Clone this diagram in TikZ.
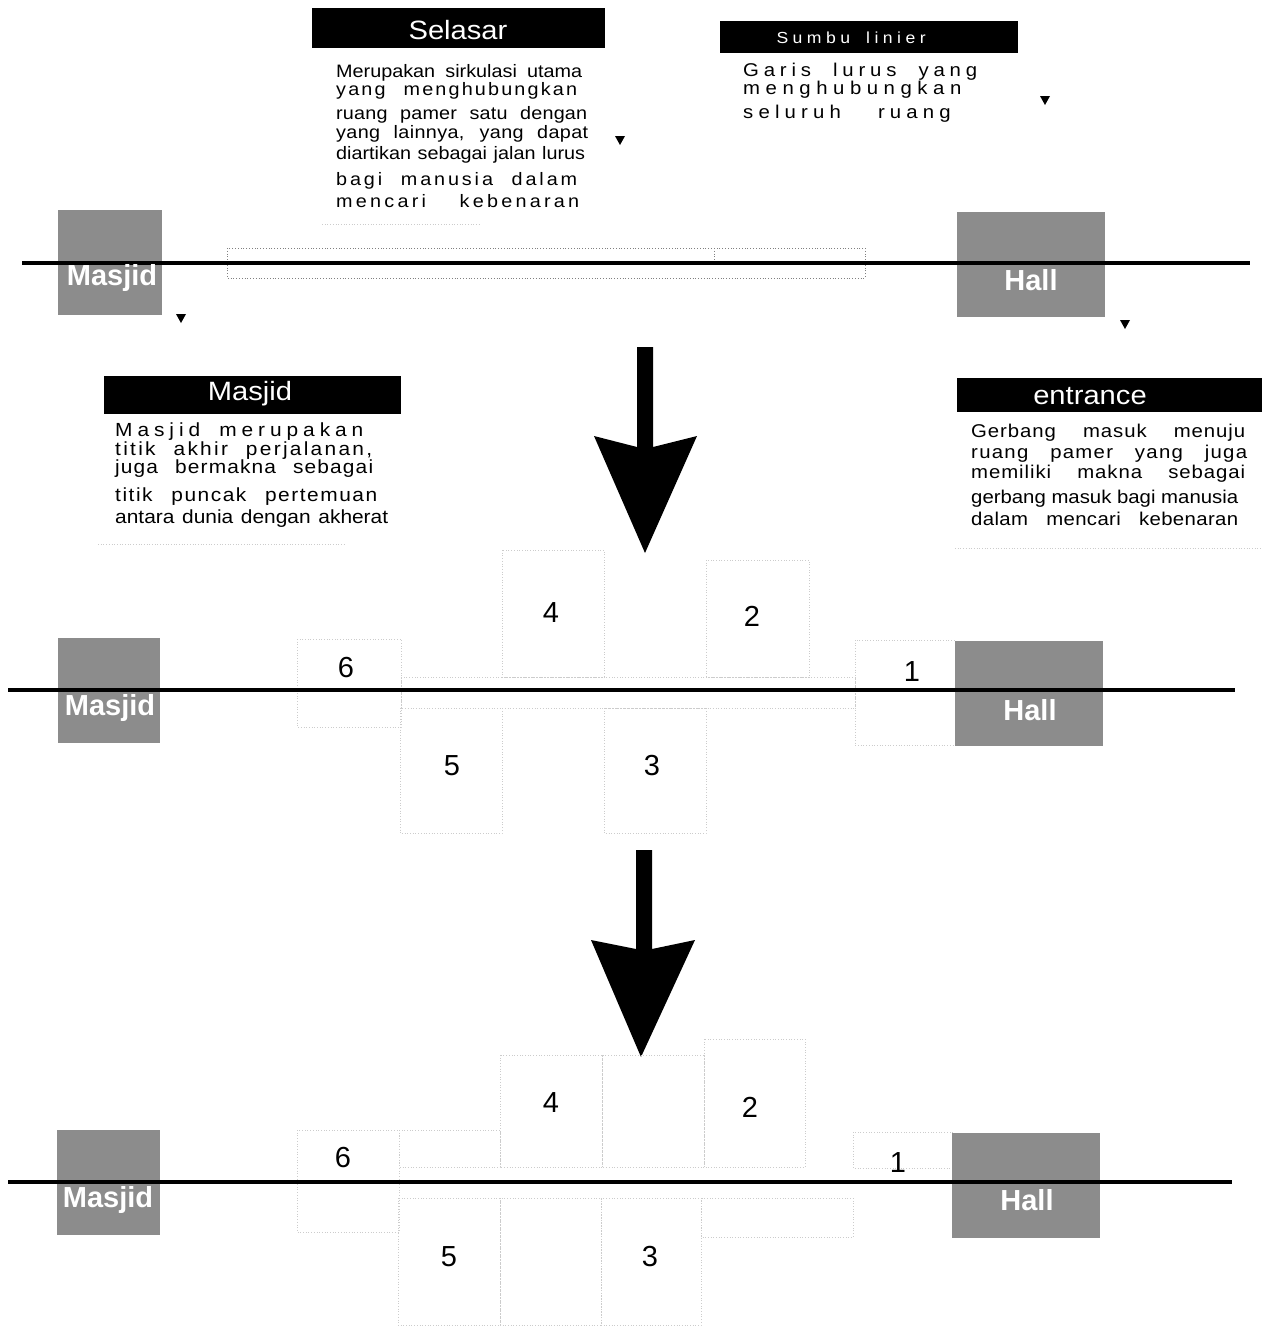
\documentclass[tikz,border=0pt]{standalone}
\usepackage{fontspec}
\setmainfont{Liberation Sans}
\newfontfamily\bodyfont[FakeStretch=1.1]{Liberation Sans}
\newcommand\jline[3]{\makebox[#1pt][s]{\addfontfeature{LetterSpace=#2}#3}}
\newcommand\fSel{\bodyfont\fontsize{18}{18}\selectfont}
\newcommand\fSum{\bodyfont\fontsize{18.5}{18}\selectfont}
\newcommand\fMas{\bodyfont\fontsize{19}{18}\selectfont}
\newcommand\fEnt{\bodyfont\fontsize{18.5}{18}\selectfont}
\newcommand\fHdr{\bodyfont\fontsize{26.5}{26}\selectfont}
\begin{document}
\begin{tikzpicture}[x=1pt,y=-1pt,
  txt/.style={anchor=base west,inner sep=0pt},
  hdr/.style={fill=black,draw=none,inner sep=0pt},
  hdrtext/.style={text=white,inner sep=0pt,font=\fHdr},
  graybox/.style={fill=black!45,draw=none,inner sep=0pt},
  graylabel/.style={text=white,font=\bfseries\fontsize{29}{29}\selectfont,inner sep=0pt},
  axisline/.style={line width=4.5pt},
  topdot/.style={draw=black!50,dotted,line width=0.8pt},
  faint/.style={draw=black!20,dotted,line width=0.7pt},
  num/.style={font=\fontsize{29}{29}\selectfont,inner sep=0pt},
  marker/.style={fill=black},
  bigarrow/.style={fill=black}]
\useasboundingbox (0,0) rectangle (1270,1326);

% ---------------- top section ----------------
% Selasar
\node[hdr,minimum width=293pt,minimum height=40pt] (hsel) at (458.5,28) {};
\node[hdrtext] (hselt) at (458,30) {Selasar};
\node[txt,font=\fSel] (sel1) at (336,77) {\jline{246}{0}{Merupakan sirkulasi utama}};
\node[txt,font=\fSel] (sel2) at (336,95) {\jline{250}{12}{yang\quad menghubungkan}};
\node[txt,font=\fSel] (sel3) at (336,119) {\jline{251}{1}{ruang pamer satu dengan}};
\node[txt,font=\fSel] (sel4) at (336,138) {\jline{252}{2}{yang lainnya, yang dapat}};
\node[txt,font=\fSel] (sel5) at (336,159) {\jline{249}{0}{diartikan sebagai jalan lurus}};
\node[txt,font=\fSel] (sel6) at (336,185) {\jline{241}{16}{bagi manusia dalam}};
\node[txt,font=\fSel] (sel7) at (336,207) {\jline{243}{18}{mencari kebenaran}};
\draw[faint] (322,224) -- (480,224);
\fill[marker] (615,136) -- (625,136) -- (620,145) -- cycle;

% Sumbu linier
\node[hdr,minimum width=298pt,minimum height=32pt] (hsum) at (869,37) {};
\node[text=white,inner sep=0pt,font=\bodyfont\fontsize{16}{16}\selectfont] (hsumt) at (863,38) {\jline{173}{28}{Sumbu\quad linier}};
\node[txt,font=\fSum] (sum1) at (743,76) {\jline{234}{26}{Garis lurus yang}};
\node[txt,font=\fSum] (sum2) at (743,94) {\jline{226}{30}{menghubungkan}};
\node[txt,font=\fSum] (sum3) at (743,118) {\jline{247}{28}{seluruh\qquad ruang}};
\fill[marker] (1040,96) -- (1050,96) -- (1045,105) -- cycle;

% axis 1
\node[graybox,minimum width=104pt,minimum height=105pt] (gm1) at (110,262.5) {};
\node[graybox,minimum width=148pt,minimum height=105pt] (gh1) at (1031,264.5) {};
\draw[topdot] (227,248) rectangle (865,278);
\draw[topdot] (714,248) -- (714,261);
\coordinate (a1l) at (22,263);
\coordinate (a1r) at (1250,263);
\draw[axisline] (a1l) -- (a1r);
\node[graylabel] (gm1t) at (112,278) {Masjid};
\node[graylabel] (gh1t) at (1031,280) {Hall};
\fill[marker] (176,314) -- (186,314) -- (181,323) -- cycle;
\fill[marker] (1120,320) -- (1130,320) -- (1125,329) -- cycle;

% arrow 1
\fill[bigarrow] (594,436) -- (637,447) -- (637,347) -- (653,347) -- (653,447) -- (697,436) -- (645,553) -- cycle;

% Masjid text
\node[hdr,minimum width=297pt,minimum height=38pt] (hmas) at (252.5,395) {};
\node[hdrtext] (hmast) at (250,394) {Masjid};
\node[txt,font=\fMas] (mas1) at (115,436) {\jline{265}{26}{Masjid\quad merupakan}};
\node[txt,font=\fMas] (mas2) at (115,455) {\jline{257}{12}{titik akhir perjalanan,}};
\node[txt,font=\fMas] (mas3) at (115,473) {\jline{258}{6}{juga bermakna sebagai}};
\node[txt,font=\fMas] (mas4) at (115,501) {\jline{262}{8}{titik puncak pertemuan}};
\node[txt,font=\fMas] (mas5) at (115,523) {\jline{273}{0}{antara dunia dengan akherat}};
\draw[faint] (98,544) -- (345,544);

% entrance text
\node[hdr,minimum width=305pt,minimum height=34pt] (hent) at (1109.5,395) {};
\node[hdrtext] (hentt) at (1090,396) {entrance};
\node[txt,font=\fEnt] (ent1) at (971,437) {\jline{274}{5}{Gerbang masuk menuju}};
\node[txt,font=\fEnt] (ent2) at (971,458) {\jline{276}{7}{ruang pamer yang juga}};
\node[txt,font=\fEnt] (ent3) at (971,478) {\jline{274}{5}{memiliki makna sebagai}};
\node[txt,font=\fEnt] (ent4) at (971,503) {\jline{267}{0}{gerbang masuk bagi manusia}};
\node[txt,font=\fEnt] (ent5) at (971,525) {\jline{267}{2}{dalam mencari kebenaran}};
\draw[faint] (955,548) -- (1262,548);

% ---------------- middle section ----------------
\draw[faint] (502,550) rectangle (604,677);
\draw[faint] (706,560) rectangle (809,677);
\draw[faint] (297,639) rectangle (401,727);
\draw[faint] (401,677) rectangle (855,708);
\draw[faint] (400,708) rectangle (502,833);
\draw[faint] (604,708) rectangle (706,833);
\draw[faint] (855,640) rectangle (955,745);
\node[graybox,minimum width=102pt,minimum height=105pt] (gm2) at (109,690.5) {};
\node[graybox,minimum width=148pt,minimum height=105pt] (gh2) at (1029,693.5) {};
\coordinate (a2l) at (8,690);
\coordinate (a2r) at (1235,690);
\draw[axisline] (a2l) -- (a2r);
\node[graylabel] (gm2t) at (110,708) {Masjid};
\node[graylabel] (gh2t) at (1030,710) {Hall};
\node[num] (m4) at (551,613) {4};
\node[num] (m2) at (752,616) {2};
\node[num] (m6) at (346,668) {6};
\node[num] (m1) at (912,672) {1};
\node[num] (m5) at (452,766) {5};
\node[num] (m3) at (652,766) {3};

% arrow 2
\fill[bigarrow] (591,940) -- (636,949) -- (636,850) -- (652,850) -- (652,949) -- (695,940) -- (641,1057) -- cycle;

% ---------------- bottom section ----------------
\draw[faint] (297,1130) rectangle (399,1232);
\draw[faint] (399,1130) rectangle (500,1167);
\draw[faint] (500,1055) rectangle (602,1167);
\draw[faint] (602,1055) rectangle (704,1167);
\draw[faint] (704,1039) rectangle (805,1167);
\draw[faint] (853,1132) rectangle (952,1168);
\draw[faint] (398,1198) rectangle (500,1325);
\draw[faint] (500,1198) rectangle (601,1325);
\draw[faint] (601,1198) rectangle (701,1325);
\draw[faint] (701,1198) rectangle (853,1237);
\node[graybox,minimum width=103pt,minimum height=105pt] (gm3) at (108.5,1182.5) {};
\node[graybox,minimum width=148pt,minimum height=105pt] (gh3) at (1026,1185.5) {};
\coordinate (a3l) at (8,1182);
\coordinate (a3r) at (1232,1182);
\draw[axisline,line width=3.5pt] (a3l) -- (a3r);
\node[graylabel] (gm3t) at (108,1200) {Masjid};
\node[graylabel] (gh3t) at (1027,1200) {Hall};
\node[num] (b4) at (551,1103) {4};
\node[num] (b2) at (750,1107) {2};
\node[num] (b6) at (343,1158) {6};
\node[num] (b1) at (898,1163) {1};
\node[num] (b5) at (449,1257) {5};
\node[num] (b3) at (650,1257) {3};
\end{tikzpicture}
\end{document}
